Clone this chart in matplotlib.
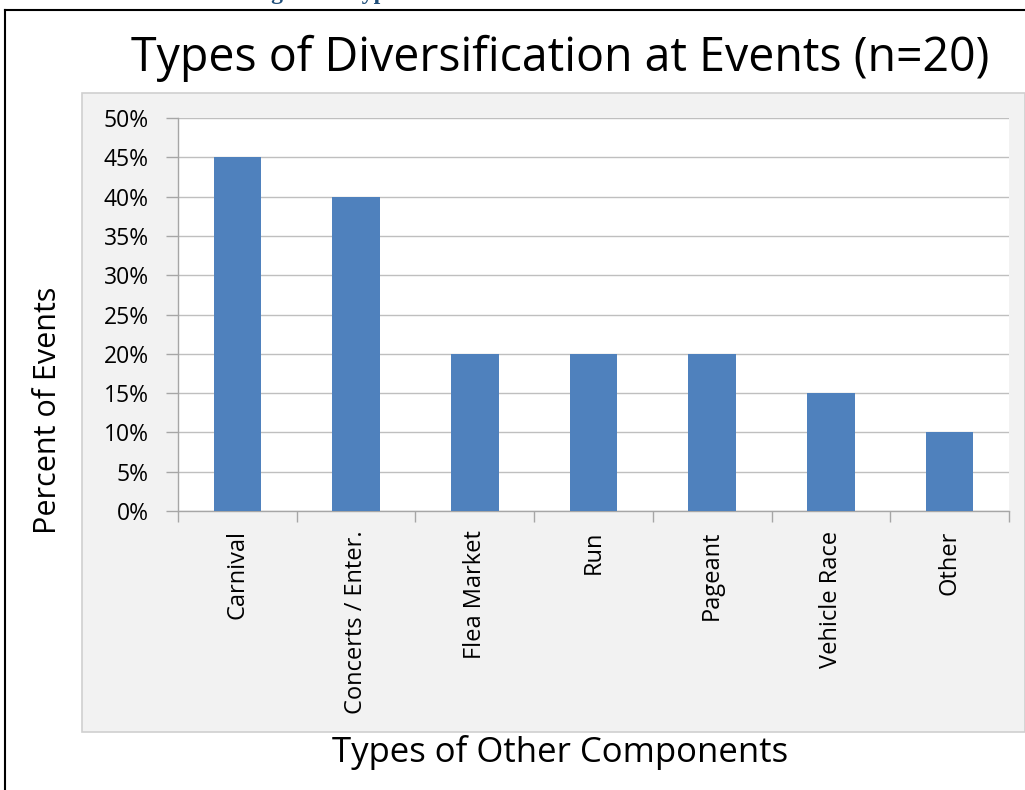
import numpy as np
import matplotlib
matplotlib.use('Agg')
import matplotlib.pyplot as plt
from matplotlib.patches import Rectangle
from matplotlib.lines import Line2D
from matplotlib.ticker import PercentFormatter

# Data
categories = ['Carnival', 'Concerts / Enter.', 'Flea Market', 'Run', 'Pageant',
              'Vehicle Race', 'Other']
percents = [45, 40, 20, 20, 20, 15, 10]
y_ticks = [0, 5, 10, 15, 20, 25, 30, 35, 40, 45, 50]

plt.rcParams['font.family'] = ['Open Sans', 'DejaVu Sans']

W, H = 1025, 790
fig = plt.figure(figsize=(W / 100, H / 100), dpi=100)
fig.patch.set_facecolor('white')

def fx(px):
    return px / W

def fy(py):
    return 1 - py / H

# page border (screenshot frame)
fig.add_artist(Line2D([fx(5), fx(5)], [fy(10), 0], color='black', lw=1.5))
fig.add_artist(Line2D([fx(5), 1], [fy(10), fy(10)], color='black', lw=1.5))

# clipped caption from the document above
fig.text(fx(250), fy(-6), 'Figure 9: Types of Diversification', color='#1f4e79',
         fontsize=17, fontweight='bold', family='Liberation Serif', va='center')

# gray chart area, behind the axes
fig.add_artist(Rectangle((fx(82), fy(732)), fx(1025 - 82), (732 - 93) / H,
                         facecolor='#f2f2f2', edgecolor='#d0d0d0', lw=1.2,
                         zorder=-5))

# title
fig.text(fx(560), fy(58), 'Types of Diversification at Events (n=20)',
         fontsize=33.5, ha='center', va='center', color='black')

# plot area
ax = fig.add_axes([fx(178), fy(511), fx(1009 - 178), (511 - 118) / H])
ax.set_facecolor('white')
x = np.arange(len(categories))
ax.bar(x, percents, width=0.4, color='#4f81bd', zorder=3)

ax.set_xlim(-0.5, len(categories) - 0.5)
ax.set_ylim(0, 50)
ax.set_yticks(y_ticks)
ax.yaxis.set_major_formatter(PercentFormatter(decimals=0))
ax.grid(axis='y', color='#bfbfbf', lw=1, zorder=0)

ax.set_xticks(x)
ax.set_xticklabels(categories, rotation=90, fontsize=17)
ax.tick_params(axis='x', length=0, pad=14)
ax.set_xticks(np.arange(len(categories) + 1) - 0.5, minor=True)
ax.tick_params(axis='x', which='minor', length=8, color='#a6a6a6', width=1)
ax.tick_params(axis='y', length=9, color='#a6a6a6', width=1, labelsize=16.5, pad=12)

for side in ['top', 'right']:
    ax.spines[side].set_visible(False)
for side in ['left', 'bottom']:
    ax.spines[side].set_color('#a6a6a6')
    ax.spines[side].set_linewidth(1)

fig.text(fx(48), fy(410), 'Percent of Events', rotation=90, fontsize=22,
         ha='center', va='center')
fig.text(fx(560), fy(752), 'Types of Other Components', fontsize=25,
         ha='center', va='center')

fig.savefig('out.png', dpi=100, facecolor='white')
